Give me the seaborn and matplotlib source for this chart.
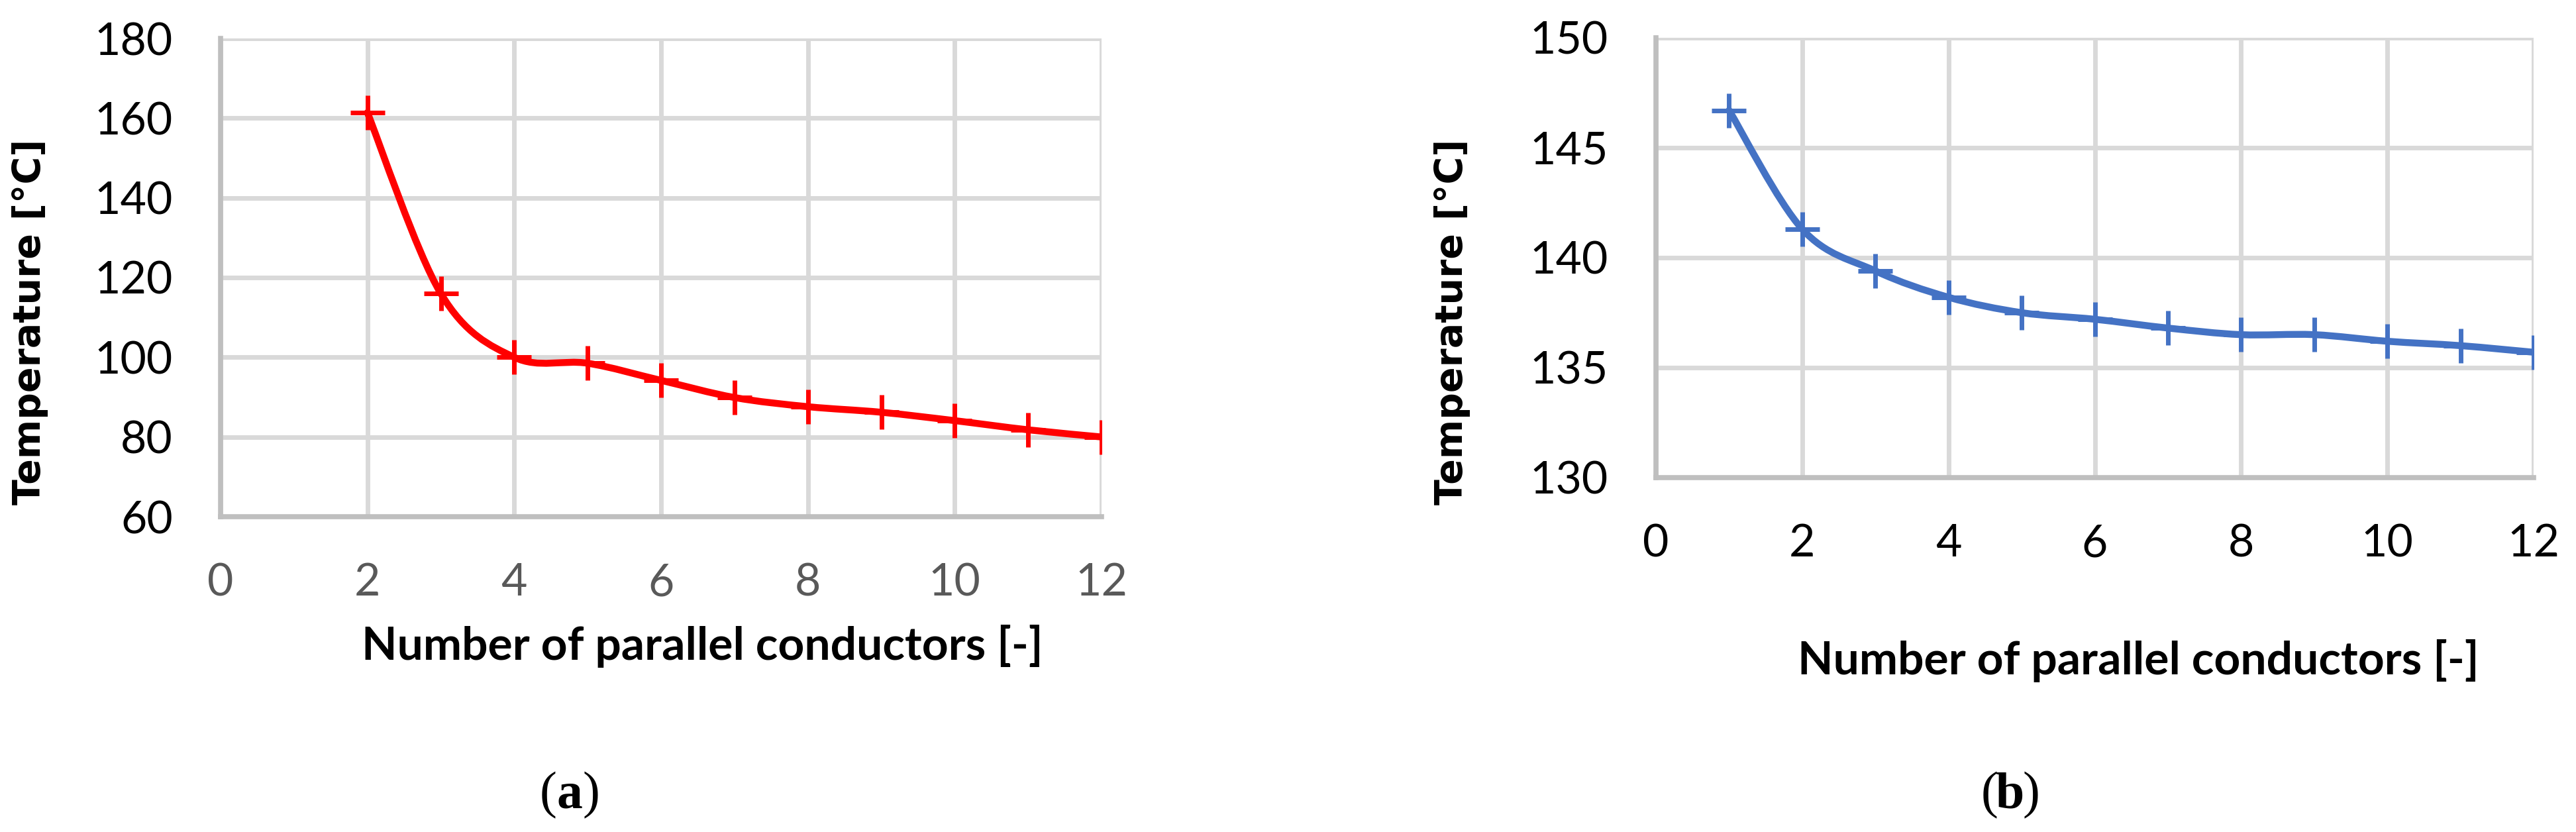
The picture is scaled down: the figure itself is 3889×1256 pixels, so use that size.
import numpy as np
import pandas as pd
import matplotlib
matplotlib.use("Agg")
import matplotlib.pyplot as plt
import seaborn as sns
from matplotlib.path import Path
from matplotlib.patches import PathPatch

# panel (a)
conductors_a = [2, 3, 4, 5, 6, 7, 8, 9, 10, 11, 12]
temp_a = [161.4, 116.0, 100.0, 98.5, 94.2, 89.9, 87.6, 86.2, 84.1, 81.8, 80.0]

# panel (b)
conductors_b = [1, 2, 3, 4, 5, 6, 7, 8, 9, 10, 11, 12]
temp_b = [146.7, 141.3, 139.4, 138.2, 137.5, 137.2, 136.8, 136.5, 136.5, 136.2, 136.0, 135.7]

xticks = [0, 2, 4, 6, 8, 10, 12]
yticks_a = [60, 80, 100, 120, 140, 160, 180]
yticks_b = [130, 135, 140, 145, 150]

xlabel = "Number of parallel conductors [-]"
ylabel = "Temperature [°C]"

sns.set_theme(style="white")
tick_font = ["Lato", "DejaVu Sans"]
plt.rcParams['font.family'] = tick_font
plt.rcParams['text.color'] = 'black'

W, H = 3889, 1256
fig = plt.figure(figsize=(W / 100, H / 100), dpi=100, facecolor='white')


def fx(px):
    return px / W


def fy(py):
    return 1 - py / H


def smooth_path(xs, ys):
    # excel-style smoothed line: cubic bezier segments through the points
    p = np.column_stack([xs, ys]).astype(float)
    n = len(p)
    verts = [p[0]]
    codes = [Path.MOVETO]
    for i in range(n - 1):
        p0 = p[i - 1] if i > 0 else p[i]
        p3 = p[i + 2] if i + 2 < n else p[i + 1]
        c1 = p[i] + (p[i + 1] - p0) / 6
        c2 = p[i + 1] - (p3 - p[i]) / 6
        verts += [c1, c2, p[i + 1]]
        codes += [Path.CURVE4] * 3
    return Path(verts, codes)


def panel(rect, xs, ys, color, yticks, xtick_color):
    ax = fig.add_axes(rect)
    df = pd.DataFrame({'x': xs, 'y': ys})
    ax.add_patch(PathPatch(smooth_path(xs, ys), facecolor='none', edgecolor=color,
                           linewidth=7.5, capstyle='round', joinstyle='round'))
    sns.lineplot(data=df, x='x', y='y', ax=ax, color=color, linestyle='none',
                 marker='+', markersize=38, markeredgewidth=5, mec=color)
    ax.set_xlim(0, 12)
    ax.set_ylim(yticks[0], yticks[-1])
    ax.set_xticks(xticks)
    ax.set_yticks(yticks)
    ax.grid(True, color='#D9D9D9', linewidth=5)
    ax.set_axisbelow(True)
    for s in ['top', 'right']:
        ax.spines[s].set_visible(False)
    for s in ['left', 'bottom']:
        ax.spines[s].set_color('#BFBFBF')
        ax.spines[s].set_linewidth(5.5)
    ax.tick_params(axis='both', length=0, labelsize=49)
    ax.tick_params(axis='y', pad=52, labelcolor='black')
    ax.tick_params(axis='x', pad=50, labelcolor=xtick_color)
    ax.set_xlabel('')
    ax.set_ylabel('')
    return ax


ax_a = panel([fx(333), fy(780), fx(1663) - fx(333), fy(58) - fy(780)],
             conductors_a, temp_a, '#FF0000', yticks_a, '#595959')
ax_b = panel([fx(2500), fy(721), fx(3825) - fx(2500), fy(57) - fy(721)],
             conductors_b, temp_b, '#4472C4', yticks_b, 'black')

# axis titles
fig.text(fx(46), fy(486), ylabel, rotation=90, ha='center', va='center',
         fontsize=41, fontweight='bold', family=['DejaVu Sans'])
fig.text(fx(2192), fy(486), ylabel, rotation=90, ha='center', va='center',
         fontsize=41, fontweight='bold', family=['DejaVu Sans'])
fig.text(fx(1060), fy(975), xlabel, ha='center', va='center',
         fontsize=50, fontweight='bold', family=tick_font)
fig.text(fx(3228), fy(997), xlabel, ha='center', va='center',
         fontsize=50, fontweight='bold', family=tick_font)

# sub captions
for cx, letter in [(860, 'a'), (3035, 'b')]:
    fig.text(fx(cx), fy(1201), letter, ha='center', va='center', fontsize=56,
             fontweight='bold', family=['Liberation Serif'])
    fig.text(fx(cx - 19), fy(1201), '(', ha='right', va='center', fontsize=56,
             family=['Liberation Serif'])
    fig.text(fx(cx + 19), fy(1201), ')', ha='left', va='center', fontsize=56,
             family=['Liberation Serif'])

fig.savefig('out.png', dpi=100, facecolor='white')
